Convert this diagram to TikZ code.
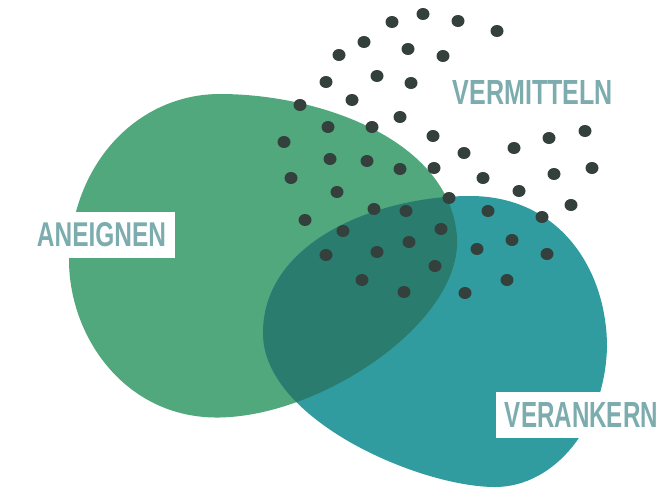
\documentclass[tikz,border=0pt]{standalone}
\usepackage{fontspec}
\setsansfont{Liberation Sans}
\usepackage{graphicx}
\definecolor{blobgreen}{RGB}{82,168,125}
\definecolor{blobteal}{RGB}{48,156,160}
\definecolor{blobmix}{RGB}{42,125,110}
\definecolor{dotdark}{RGB}{52,64,60}
\definecolor{labeltext}{RGB}{124,172,174}
\begin{document}
\begin{tikzpicture}[x=1pt,y=-1pt]
    \tikzstyle{tag} = [fill=white, inner xsep=9pt, inner ysep=11pt, text=labeltext, font=\sffamily\bfseries]
    \tikzstyle{punkt} = [fill=dotdark]
    \useasboundingbox (0,0) rectangle (661,488);

    % Flaechen
    \def\greenblob{(220,94) .. controls (320,94) and (450,140) .. (457,237)
        .. controls (462,320) and (330,410) .. (230,417)
        .. controls (130,425) and (69,340) .. (69,260)
        .. controls (72,160) and (140,94) .. (220,94) -- cycle}
    \def\tealblob{(263,333) .. controls (263,240) and (380,196) .. (470,196)
        .. controls (560,196) and (607,270) .. (607,347)
        .. controls (605,425) and (555,487) .. (495,487)
        .. controls (420,487) and (263,420) .. (263,333) -- cycle}
    \fill[blobgreen] \greenblob;
    \fill[blobteal] \tealblob;
    \begin{scope}
        \clip \greenblob;
        \fill[blobmix] \tealblob;
    \end{scope}

    % Punkte
    \foreach \x/\y in {392/22, 423/14, 458/21, 497/31,
                       339/55, 364/42, 408/49, 443/56,
                       326/82, 377/76, 411/83,
                       300/105, 352/100, 400/117,
                       328/127, 372/127, 433/136, 464/153, 514/148, 549/138, 585/131,
                       284/142, 330/159, 367/161, 400/169, 434/168,
                       291/178, 337/192, 483/178, 519/191, 554/174, 592/168,
                       449/198, 488/211, 542/217, 571/205,
                       305/220, 374/209, 406/211,
                       343/231, 441/229, 512/240, 547/254,
                       326/255, 377/252, 409/242, 477/249,
                       435/266, 362/280, 404/292, 465/293, 507/280}
        \fill[punkt] (\x,\y) ellipse [x radius=6.5, y radius=6];

    % Beschriftungen
    \node (aneignen) [tag] at (101.5,235) {\resizebox{129pt}{24pt}{ANEIGNEN}};
    \node (verankern) [tag, inner ysep=10.5pt] at (581.5,415) {\resizebox{153pt}{25pt}{VERANKERN}};
    \node (vermitteln) [tag, fill=none] at (533,92) {\resizebox{160pt}{24pt}{VERMITTELN}};
\end{tikzpicture}
\end{document}
